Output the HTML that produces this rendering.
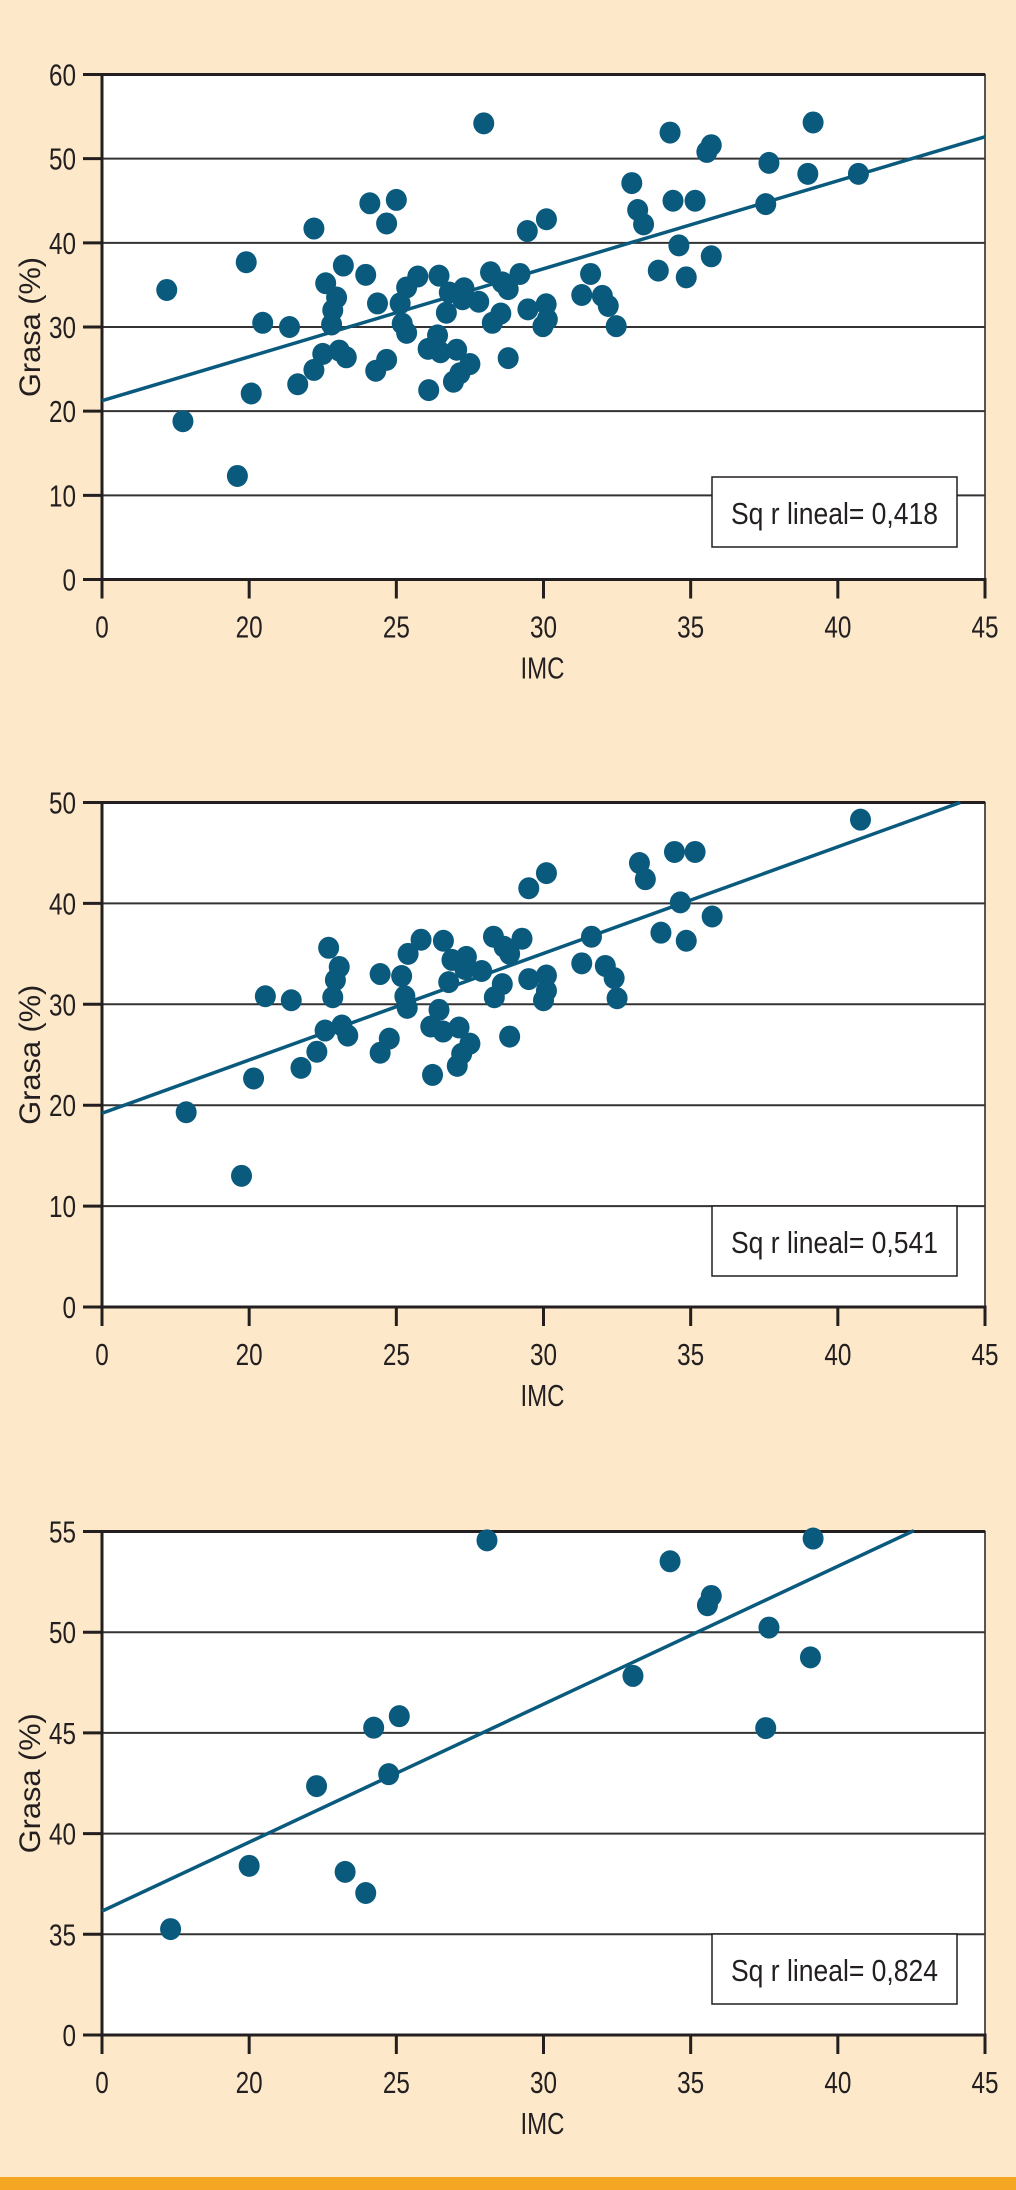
<!DOCTYPE html>
<html><head><meta charset="utf-8"><style>
html,body{margin:0;padding:0;background:#fde9ca;}
svg{display:block;}
text{font-family:"Liberation Sans",sans-serif;fill:#231f20;}
</style></head><body>
<svg id="chart" width="1016" height="2190" viewBox="0 0 1016 2190" xmlns="http://www.w3.org/2000/svg">
<rect x="0" y="0" width="1016" height="2190" fill="#fde9ca"/>
<rect x="0" y="2177" width="1016" height="13" fill="#f5a623"/>
</svg>
<script>
// ---- Chart 1 data ----
const imc1 = [17.2,17.75,19.6,19.9,20.07,20.46,21.37,21.65,22.2,22.2,22.5,22.6,22.8,22.84,22.97,23.06,23.3,23.2,23.96,24.1,24.3,24.36,24.67,24.67,25.0,25.13,25.2,25.35,25.35,25.73,26.1,26.08,26.4,26.45,26.5,26.7,26.8,26.94,27.05,27.16,27.25,27.3,27.5,27.8,27.97,28.2,28.26,28.55,28.6,28.8,28.8,29.2,29.45,29.47,29.98,30.09,30.13,30.1,31.3,31.6,32.0,32.2,32.47,33.0,33.2,33.4,33.9,34.3,34.4,34.6,34.85,35.15,35.55,35.7,35.7,37.55,37.66,38.98,39.16,40.7];
const grasa1 = [34.4,18.8,12.3,37.7,22.1,30.5,30.0,23.2,41.7,24.9,26.8,35.2,30.3,32.0,33.5,27.2,26.4,37.3,36.2,44.7,24.8,32.8,42.3,26.1,45.1,32.8,30.4,34.7,29.3,36.0,22.5,27.4,29.0,36.1,27.0,31.7,34.1,23.5,27.3,24.5,33.3,34.6,25.6,33.0,54.2,36.5,30.5,31.6,35.3,34.5,26.3,36.3,41.4,32.1,30.1,32.7,30.9,42.8,33.8,36.3,33.7,32.5,30.1,47.1,43.9,42.2,36.7,53.1,45.0,39.7,35.9,45.0,50.8,51.6,38.4,44.6,49.5,48.2,54.3,48.2];
const fit1 = [[15,21.24],[45,52.6]];
const yTicks1 = [0,10,20,30,40,50,60];
const yTickLabels1 = ["0","10","20","30","40","50","60"];
const r2Label1 = "Sq r lineal= 0,418";

// ---- Chart 2 data ----
const imc2 = [17.86,19.74,20.15,20.55,21.43,21.76,22.3,22.58,22.7,22.84,22.93,23.06,23.15,23.35,24.45,24.45,24.76,25.18,25.29,25.4,25.37,25.84,26.17,26.23,26.45,26.59,26.6,26.78,26.89,27.07,27.13,27.22,27.33,27.38,27.5,27.9,28.3,28.33,28.6,28.66,28.85,28.85,29.27,29.5,29.5,30.0,30.1,30.1,30.1,31.3,31.63,32.1,32.4,32.5,33.26,33.46,33.99,34.45,34.65,34.85,35.15,35.73,40.77];
const grasa2 = [19.3,13.0,22.65,30.8,30.4,23.7,25.3,27.4,35.6,30.7,32.4,33.7,27.9,26.9,33.0,25.2,26.6,32.8,30.8,35.0,29.65,36.4,27.8,23.0,29.45,27.3,36.3,32.2,34.4,23.9,27.7,25.1,33.5,34.7,26.1,33.3,36.7,30.7,32.0,35.7,35.0,26.8,36.5,41.5,32.5,30.4,31.35,32.85,43.0,34.06,36.7,33.8,32.6,30.6,44.0,42.4,37.1,45.1,40.1,36.3,45.1,38.7,48.3];
const fit2 = [[15,19.2],[44.16,50]];
const yTicks2 = [0,10,20,30,40,50];
const yTickLabels2 = ["0","10","20","30","40","50"];
const r2Label2 = "Sq r lineal= 0,541";

// ---- Chart 3 data ----
const imc3 = [17.33,20.0,22.29,23.26,23.96,24.23,24.74,25.1,28.08,33.04,34.3,35.57,35.7,37.55,37.66,39.07,39.16];
const grasa3 = [35.26,38.4,42.36,38.1,37.05,45.26,42.95,45.83,54.56,47.83,53.52,51.34,51.8,45.24,50.23,48.75,54.65];
const fit3 = [[15,36.15],[42.58,55.04]];
const yTicks3 = [30,35,40,45,50,55];
const yTickLabels3 = ["0","35","40","45","50","55"];
const r2Label3 = "Sq r lineal= 0,824";

// shared x axis (broken: "0" drawn at position 15)
const xTicks = [15,20,25,30,35,40,45];
const xTickLabels = ["0","20","25","30","35","40","45"];

const NS = "http://www.w3.org/2000/svg";
const svg = document.getElementById('chart');
function mk(tag, attrs, parent){
  const e = document.createElementNS(NS, tag);
  for (const k in attrs) e.setAttribute(k, attrs[k]);
  (parent||svg).appendChild(e);
  return e;
}

function drawChart(idx, cfg){
  const L = 102, R = 985, T = cfg.top, B = cfg.bottom;
  const g = mk('g', {});
  
  
  const xS = v => L + (v - 15) / 30 * (R - L);
  const yS = v => B - (v - cfg.yMin) / (cfg.yMax - cfg.yMin) * (B - T);

  const plot = mk('rect', {x:L, y:T, width:R-L, height:B-T, fill:'#ffffff', stroke:'#231f20', 'stroke-width':1.5}, g);
  
  

  cfg.yTicks.forEach((t, i) => {
    const y = yS(t);
    if (i > 0 && i < cfg.yTicks.length - 1) {
      const gl = mk('line', {x1:L, x2:R, y1:y, y2:y, stroke:'#333', 'stroke-width':2}, g);
      
      
    }
    const tk = mk('line', {x1:L-19, x2:L, y1:y, y2:y, stroke:'#231f20', 'stroke-width':3}, g);
    
    
    const s = cfg.yLabels[i];
    const lb = mk('text', {x:76, y:y+11, 'text-anchor':'end', 'font-size':31, textLength:13.5*s.length, lengthAdjust:'spacingAndGlyphs'}, g);
    lb.textContent = s;
    
    
  });
  const top = mk('line', {x1:L-19, x2:R, y1:T, y2:T, stroke:'#231f20', 'stroke-width':3}, g);
  
  

  xTicks.forEach((t, i) => {
    const x = xS(t);
    const tk = mk('line', {x1:x, x2:x, y1:B, y2:B+19, stroke:'#231f20', 'stroke-width':3}, g);
    
    
    const s = xTickLabels[i];
    const lb = mk('text', {x:x, y:B+58, 'text-anchor':'middle', 'font-size':31, textLength:13.5*s.length, lengthAdjust:'spacingAndGlyphs'}, g);
    lb.textContent = s;
    
    
  });
  const ax = mk('line', {x1:L, x2:L, y1:T, y2:B+19, stroke:'#231f20', 'stroke-width':3}, g);
  
  
  const bx = mk('line', {x1:L-19, x2:R+1.5, y1:B, y2:B, stroke:'#231f20', 'stroke-width':3}, g);
  
  

  const xt = mk('text', {x:(L+R)/2 - 1, y:B+99, 'text-anchor':'middle', 'font-size':31, textLength:44, lengthAdjust:'spacingAndGlyphs'}, g);
  xt.textContent = 'IMC';
  
  
  const cy = (T+B)/2;
  const yt = mk('text', {x:0, y:0, 'text-anchor':'middle', 'font-size':30, textLength:140, lengthAdjust:'spacingAndGlyphs', transform:'translate(40,'+cy+') rotate(-90)'}, g);
  yt.textContent = 'Grasa (%)';
  
  

  cfg.xs.forEach((v, i) => {
    const d = mk('ellipse', {cx:xS(v), cy:yS(cfg.ys[i]), rx:10.5, ry:11, fill:'#0a5a7e'}, g);
    
    
  });

  const ln = mk('line', {x1:xS(cfg.fit[0][0]), y1:yS(cfg.fit[0][1]), x2:xS(cfg.fit[1][0]), y2:yS(cfg.fit[1][1]), stroke:'#0a5a7e', 'stroke-width':3.5}, g);
  
  

  const lgY = cfg.legendY;
  const box = mk('rect', {x:712, y:lgY, width:245, height:70, fill:'#ffffff', stroke:'#231f20', 'stroke-width':1.5}, g);
  
  
  const lt = mk('text', {x:731, y:lgY+47, 'font-size':31, textLength:207, lengthAdjust:'spacingAndGlyphs'}, g);
  lt.textContent = cfg.r2;
  
  
}

drawChart(1, {top:74.5, bottom:579.5, yMin:0, yMax:60, yTicks:yTicks1, yLabels:yTickLabels1, xs:imc1, ys:grasa1, fit:fit1, r2:r2Label1, legendY:477});
drawChart(2, {top:802.5, bottom:1307, yMin:0, yMax:50, yTicks:yTicks2, yLabels:yTickLabels2, xs:imc2, ys:grasa2, fit:fit2, r2:r2Label2, legendY:1206});
drawChart(3, {top:1531.5, bottom:2035, yMin:30, yMax:55, yTicks:yTicks3, yLabels:yTickLabels3, xs:imc3, ys:grasa3, fit:fit3, r2:r2Label3, legendY:1934});
</script>
</body></html>
